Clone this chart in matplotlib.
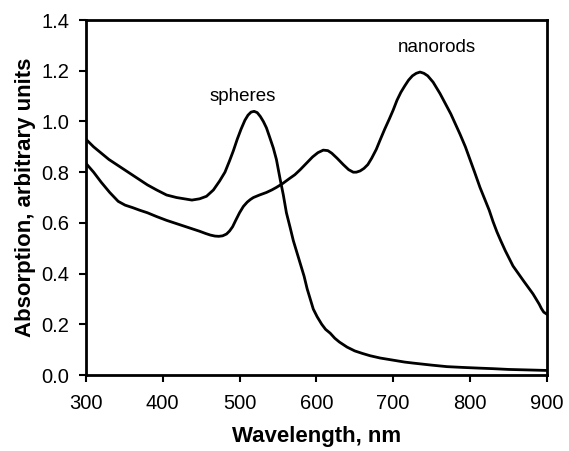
import matplotlib.pyplot as plt

plt.rcParams['font.family'] = ['Liberation Sans', 'DejaVu Sans']

# spheres - absorption spectrum
spheres_nm = [300, 310, 320, 330, 340, 350, 360, 370, 380, 392, 405, 418, 428,
              438, 448, 457, 466, 474, 481, 487, 492, 497, 502, 507, 511, 515,
              519, 523, 527, 531, 535, 539, 544, 548, 553, 557, 561, 566, 570,
              575, 579, 584, 588, 592, 596, 601, 607, 612, 618, 624, 630, 640,
              650, 660, 670, 683, 695, 705, 715, 726, 738, 750, 770, 790, 813,
              830, 850, 875, 900]
spheres_abs = [0.93, 0.90, 0.875, 0.85, 0.83, 0.81, 0.79, 0.77, 0.75, 0.73,
               0.71, 0.70, 0.695, 0.69, 0.695, 0.705, 0.73, 0.765, 0.80,
               0.845, 0.885, 0.93, 0.97, 1.005, 1.025, 1.037, 1.04, 1.035,
               1.02, 1.00, 0.975, 0.94, 0.895, 0.85, 0.77, 0.71, 0.64, 0.58,
               0.53, 0.48, 0.44, 0.39, 0.34, 0.30, 0.26, 0.23, 0.20, 0.18,
               0.165, 0.145, 0.13, 0.11, 0.095, 0.085, 0.076, 0.067, 0.061,
               0.056, 0.051, 0.047, 0.043, 0.039, 0.033, 0.030, 0.027, 0.025,
               0.022, 0.020, 0.018]

# nanorods - absorption spectrum
rods_nm = [300, 310, 320, 331, 342, 351, 361, 370, 380, 392, 405, 418, 430,
           440, 448, 456, 462, 468, 473, 478, 483, 487, 491, 495, 500, 505,
           510, 514, 518, 526, 535, 542, 548, 556, 565, 572, 579, 587, 595,
           602, 609, 615, 620, 627, 635, 642, 648, 652, 657, 662, 667, 672,
           678, 683, 689, 695, 700, 705, 710, 715, 720, 725, 730, 735, 740,
           745, 752, 761, 768, 775, 781, 787, 794, 800, 806, 813, 819, 825,
           830, 835, 840, 846, 851, 856, 863, 870, 876, 882, 886, 890, 893,
           896, 900]
rods_abs = [0.835, 0.80, 0.76, 0.72, 0.685, 0.67, 0.66, 0.65, 0.64, 0.625,
            0.61, 0.597, 0.585, 0.575, 0.567, 0.558, 0.552, 0.548, 0.547,
            0.549, 0.556, 0.568, 0.585, 0.61, 0.64, 0.665, 0.682, 0.692,
            0.70, 0.71, 0.72, 0.73, 0.74, 0.755, 0.775, 0.79, 0.81, 0.835,
            0.86, 0.877, 0.887, 0.885, 0.875, 0.855, 0.83, 0.81, 0.80, 0.80,
            0.805, 0.815, 0.83, 0.855, 0.89, 0.927, 0.97, 1.01, 1.045, 1.084,
            1.115, 1.14, 1.163, 1.18, 1.19, 1.195, 1.19, 1.18, 1.155, 1.11,
            1.07, 1.03, 0.99, 0.95, 0.90, 0.85, 0.80, 0.74, 0.695, 0.65,
            0.605, 0.565, 0.53, 0.49, 0.46, 0.43, 0.40, 0.37, 0.345, 0.32,
            0.30, 0.28, 0.262, 0.248, 0.24]

fig = plt.figure(figsize=(5.69, 4.51), dpi=100)
ax = fig.add_axes([0.151, 0.1685, 0.81, 0.787])

ax.plot(spheres_nm, spheres_abs, color='black', linewidth=2)
ax.plot(rods_nm, rods_abs, color='black', linewidth=2)

ax.text(504, 1.10, 'spheres', fontsize=13.5, ha='center', va='center')
ax.text(757, 1.29, 'nanorods', fontsize=13.5, ha='center', va='center')

ax.set_xlim(300, 900)
ax.set_ylim(0, 1.4)
ax.set_xticks(range(300, 901, 100))
ax.set_yticks([0.0, 0.2, 0.4, 0.6, 0.8, 1.0, 1.2, 1.4])
ax.set_yticklabels(['0.0', '0.2', '0.4', '0.6', '0.8', '1.0', '1.2', '1.4'])
ax.tick_params(direction='out', labelsize=14.5, width=1.5, length=5, pad=7)
ax.tick_params(axis='x', pad=9)

for s in ax.spines.values():
    s.set_linewidth(2)

ax.set_xlabel('Wavelength, nm', fontsize=16, fontweight='bold', labelpad=9)
ax.set_ylabel('Absorption, arbitrary units', fontsize=16, fontweight='bold', labelpad=4)

fig.savefig('out.png', dpi=100)
